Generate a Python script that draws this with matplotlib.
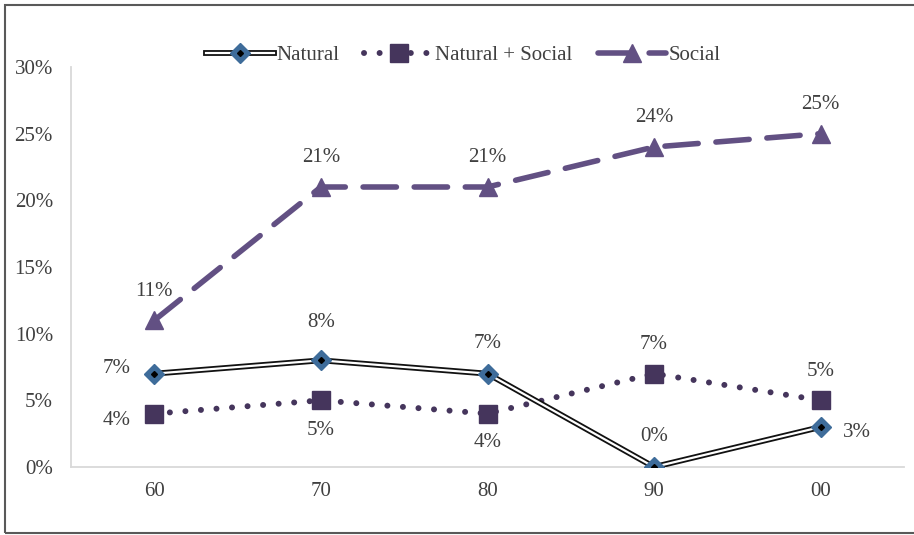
import matplotlib
matplotlib.use("Agg")
import matplotlib.pyplot as plt
from matplotlib.lines import Line2D
from matplotlib.legend_handler import HandlerTuple
from matplotlib.patches import Rectangle

plt.rcParams['font.family'] = ['Liberation Serif', 'DejaVu Serif']

decades = ["60", "70", "80", "90", "00"]
natural = [7, 8, 7, 0, 3]
natural_social = [4, 5, 4, 7, 5]
social = [11, 21, 21, 24, 25]
yticks = [0, 5, 10, 15, 20, 25, 30]

# label placement per point: (dx, dy) in points
nat_offsets = [(-27, 4), (0, 27), (0, 22), (0, 22), (26, -4)]
ns_offsets = [(-27, -5), (0, -22), (0, -21), (0, 21), (0, 21)]
soc_offsets = [(0, 21), (0, 21), (0, 21), (0, 21), (0, 21)]

c_nat = "#3E6C9A"
c_ns = "#45355C"
c_soc = "#625083"
txt = "#404040"
fs = 15

fig = plt.figure(figsize=(9.14, 5.35), dpi=100)
ax = fig.add_axes([71 / 914, 68 / 535, (904 - 71) / 914, (467 - 67) / 535])

x = list(range(len(decades)))
to_frac = lambda v: [i / 100 for i in v]

dot_style = (0, (0.01, 2.6))
dash_style = (0, (6, 3.2))

# Social: dashed with triangles
ax.plot(x, to_frac(social), color=c_soc, lw=4, ls=dash_style,
        dash_capstyle='round', marker='^', ms=13, mfc=c_soc, mec=c_soc, zorder=3)
# Natural + Social: round dots with squares
ax.plot(x, to_frac(natural_social), color=c_ns, lw=4.3, ls=dot_style,
        dash_capstyle='round', marker='s', ms=13, mfc=c_ns, mec=c_ns, zorder=3)
# Natural: double line with diamonds
ax.plot(x, to_frac(natural), color="#111111", lw=4.2, zorder=4, solid_joinstyle='miter')
ax.plot(x, to_frac(natural), color="white", lw=1.6, zorder=5)
ax.plot(x, to_frac(natural), ls='none', marker='D', ms=10, mfc=c_nat, mec=c_nat, zorder=6)
ax.plot(x, to_frac(natural), ls='none', marker='D', ms=3, mfc='black', mec='black', zorder=7)

for series, offs in ((natural, nat_offsets), (natural_social, ns_offsets), (social, soc_offsets)):
    for xi, v, (dx, dy) in zip(x, series, offs):
        ax.annotate(f"{v}%", (xi, v / 100), xytext=(dx, dy), textcoords='offset points',
                    ha='center', va='center', fontsize=fs, color=txt)

ax.set_xlim(-0.5, len(decades) - 0.5)
ax.set_ylim(0, 0.30)
ax.set_xticks(x)
ax.set_xticklabels(decades)
ax.set_yticks([t / 100 for t in yticks])
ax.set_yticklabels([f"{t}%" for t in yticks])
ax.tick_params(length=0, labelsize=fs, colors=txt)
ax.tick_params(axis='y', pad=13)
ax.tick_params(axis='x', pad=11)
for s in ('top', 'right'):
    ax.spines[s].set_visible(False)
for s in ('left', 'bottom'):
    ax.spines[s].set_color("#D9D9D9")
    ax.spines[s].set_linewidth(1.3)

# legend handles
h_nat = (Line2D([], [], color="#111111", lw=4.2),
         Line2D([], [], color="white", lw=1.6),
         Line2D([], [], ls='none', marker='D', ms=10, mfc=c_nat, mec=c_nat),
         Line2D([], [], ls='none', marker='D', ms=3, mfc='black', mec='black'))
h_ns = Line2D([], [], color=c_ns, lw=4.3, ls=dot_style, dash_capstyle='round',
              marker='s', ms=13, mfc=c_ns, mec=c_ns)
h_soc = Line2D([], [], color=c_soc, lw=4, ls=dash_style, dash_capstyle='round',
               marker='^', ms=13, mfc=c_soc, mec=c_soc)
fig.legend([h_nat, h_ns, h_soc], ["Natural", "Natural + Social", "Social"],
           handler_map={tuple: HandlerTuple(ndivide=1, pad=0)},
           loc='center', bbox_to_anchor=(463 / 914, 1 - 55 / 535), ncol=3,
           frameon=False, fontsize=fs, handlelength=3.3, handletextpad=0.1,
           columnspacing=1.2, labelcolor=txt)

# outer frame (right side runs off the canvas)
fig.add_artist(Rectangle((5 / 914, 2 / 535), 1.2, 1 - 7 / 535, transform=fig.transFigure,
                         fill=False, ec="#595959", lw=1.5, clip_on=False))

fig.savefig("out.png", dpi=100)
